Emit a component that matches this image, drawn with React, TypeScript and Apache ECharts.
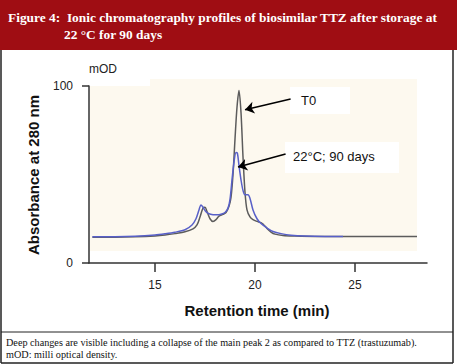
import React, { useEffect, useRef } from "react";
import * as echarts from "echarts";

const titleLine1 = "Figure 4:  Ionic chromatography profiles of biosimilar TTZ after storage at";
const titleLine2 = "22 °C for 90 days";
const captionLine1 = "Deep changes are visible including a collapse of the main peak 2 as compared to TTZ (trastuzumab).";
const captionLine2 = "mOD: milli optical density.";
const yAxisTitle = "Absorbance at 280 nm";
const xAxisTitle = "Retention time (min)";
const yUnit = "mOD";
const xTicks = [15, 20, 25];
const yTicks = [0, 100];
const labelT0 = "T0";
const label90 = "22°C; 90 days";

const t0Time = [11.87, 13.0, 14.0, 15.0, 15.5, 16.0, 16.5, 16.9, 17.1, 17.25, 17.4, 17.5, 17.6, 17.75, 17.9, 18.05, 18.2, 18.4, 18.55, 18.7, 18.8, 18.9, 19.0, 19.1, 19.2, 19.3, 19.4, 19.5, 19.6, 19.75, 19.9, 20.1, 20.3, 20.4, 20.6, 20.8, 21.0, 21.4, 22.0, 23.0, 25.0, 28.1];
const t0Value = [14.6, 14.6, 14.8, 15.3, 15.8, 16.6, 17.6, 19.3, 21.5, 26, 31, 31.5, 29, 25, 23.5, 24.5, 26.5, 27.5, 28.5, 32, 37, 50, 70, 88, 97.5, 85, 60, 40, 30, 26, 24.5, 23.5, 22.8, 22, 19.5, 17.5, 16.3, 15.5, 15.2, 15, 15, 15];

const d90Time = [11.87, 13.0, 14.0, 15.0, 15.5, 16.0, 16.5, 16.85, 17.05, 17.2, 17.3, 17.4, 17.55, 17.7, 17.9, 18.1, 18.3, 18.5, 18.65, 18.75, 18.85, 18.95, 19.05, 19.12, 19.2, 19.3, 19.4, 19.5, 19.65, 19.75, 19.9, 20.1, 20.3, 20.6, 20.9, 21.3, 21.8, 22.5, 23.5, 24.4];
const d90Value = [14.9, 14.9, 15.1, 15.8, 16.5, 17.4, 18.8, 21.5, 25, 30, 32.8, 31.5, 29, 27.8, 27.3, 27.2, 27.5, 28.5, 31, 36, 47, 57, 62.5, 62, 55, 47, 41, 38.5, 38.5, 36.5, 30, 25, 22.3, 19.8, 17.8, 16.6, 15.7, 15.2, 15, 15];

// arrow annotations in data coords: [fromT, fromV, toT, toV]
const arrowT0 = [21.78, 92.7, 19.5, 86.6];
const arrow90 = [21.53, 61.6, 19.15, 54.2];

const W = 457;
const H = 364;

export default function App() {
  const ref = useRef<HTMLDivElement>(null);
  useEffect(() => {
    if (!ref.current) return;
    const chart = echarts.init(ref.current, null, { renderer: "svg", width: W, height: H });
    const sans = "Liberation Sans, Arial, sans-serif";
    const serif = "Liberation Serif, Times New Roman, serif";
    const arrowLine = (a: number[]) => [
      { coord: [a[0], a[1]], symbol: "none" },
      { coord: [a[2], a[3]], symbol: "arrow" },
    ];
    chart.setOption({
      animation: false,
      backgroundColor: "#ffffff",
      grid: { left: 89, right: 30, top: 86, bottom: 101, containLabel: false },
      xAxis: {
        type: "value",
        min: 11.7,
        max: 28.6,
        axisLine: { show: true, lineStyle: { color: "#333", width: 1.5 } },
        axisTick: { show: true, customValues: xTicks, length: 9, lineStyle: { color: "#333", width: 1.5 } },
        axisLabel: { customValues: xTicks, margin: 16, fontFamily: sans, fontSize: 12, color: "#222" },
        splitLine: { show: false },
      },
      yAxis: {
        type: "value",
        min: 0,
        max: 100,
        axisLine: { show: true, lineStyle: { color: "#333", width: 1.5 } },
        axisTick: { show: true, customValues: yTicks, length: 7, lineStyle: { color: "#333", width: 1.5 } },
        axisLabel: { customValues: yTicks, margin: 16, fontFamily: sans, fontSize: 12, color: "#222" },
        splitLine: { show: false },
      },
      graphic: [
        { type: "rect", z: 0, shape: { x: 0, y: 0, width: W, height: 50 }, style: { fill: "#9f0d13" } },
        { type: "text", z: 10, x: 8, y: 17, style: { text: titleLine1, fill: "#fff", font: `bold 13.4px ${serif}`, textVerticalAlign: "middle" } },
        { type: "text", z: 10, x: 64, y: 34, style: { text: titleLine2, fill: "#fff", font: `bold 13.4px ${serif}`, textVerticalAlign: "middle" } },
        { type: "rect", z: 0, shape: { x: 90, y: 79, width: 327, height: 172 }, style: { fill: "#fdf9ef" } },
        { type: "rect", z: 0, shape: { x: 90, y: 78, width: 60, height: 8 }, style: { fill: "#ffffff" } },
        { type: "line", z: 10, shape: { x1: 1, y1: 50, x2: 1, y2: 363 }, style: { stroke: "#222", lineWidth: 1.5 } },
        { type: "line", z: 10, shape: { x1: 453, y1: 50, x2: 453, y2: 363 }, style: { stroke: "#222", lineWidth: 1.5 } },
        { type: "line", z: 10, shape: { x1: 1, y1: 363, x2: 453, y2: 363 }, style: { stroke: "#222", lineWidth: 1.5 } },
        { type: "line", z: 10, shape: { x1: 1, y1: 332, x2: 453, y2: 332 }, style: { stroke: "#222", lineWidth: 1 } },
        { type: "text", z: 10, x: 6, y: 342, style: { text: captionLine1, fill: "#111", font: `10.2px ${serif}`, textVerticalAlign: "middle" } },
        { type: "text", z: 10, x: 6, y: 354, style: { text: captionLine2, fill: "#111", font: `10.2px ${serif}`, textVerticalAlign: "middle" } },
        { type: "text", z: 10, x: 33, y: 175, rotation: Math.PI / 2, style: { text: yAxisTitle, fill: "#111", font: `bold 15px ${sans}`, textAlign: "center", textVerticalAlign: "middle" } },
        { type: "text", z: 10, x: 257, y: 310, style: { text: xAxisTitle, fill: "#111", font: `bold 15px ${sans}`, textAlign: "center", textVerticalAlign: "middle" } },
        { type: "text", z: 10, x: 89, y: 69, style: { text: yUnit, fill: "#222", font: `12px ${sans}`, textVerticalAlign: "middle" } },
        { type: "rect", z: 5, shape: { x: 290, y: 87, width: 60, height: 27 }, style: { fill: "#ffffff" } },
        { type: "text", z: 10, x: 301, y: 100, style: { text: labelT0, fill: "#111", font: `13px ${sans}`, textVerticalAlign: "middle" } },
        { type: "rect", z: 5, shape: { x: 285, y: 142, width: 114, height: 31 }, style: { fill: "#ffffff" } },
        { type: "text", z: 10, x: 293, y: 156, style: { text: label90, fill: "#111", font: `13px ${sans}`, textVerticalAlign: "middle" } },
      ],
      series: [
        {
          type: "line",
          z: 3,
          data: t0Time.map((t, i) => [t, t0Value[i]]),
          showSymbol: false,
          smooth: 0.3,
          lineStyle: { color: "#5c5c5c", width: 1.5 },
          markLine: {
            silent: true,
            symbolSize: 9,
            label: { show: false },
            lineStyle: { color: "#000", width: 1.5, type: "solid" },
            data: [arrowLine(arrowT0), arrowLine(arrow90)],
          },
        },
        {
          type: "line",
          z: 4,
          data: d90Time.map((t, i) => [t, d90Value[i]]),
          showSymbol: false,
          smooth: 0.3,
          lineStyle: { color: "#5860c8", width: 1.5 },
        },
      ],
    });
    return () => chart.dispose();
  }, []);
  return <div ref={ref} style={{ position: "fixed", left: 0, top: 0, width: W, height: H }} />;
}
